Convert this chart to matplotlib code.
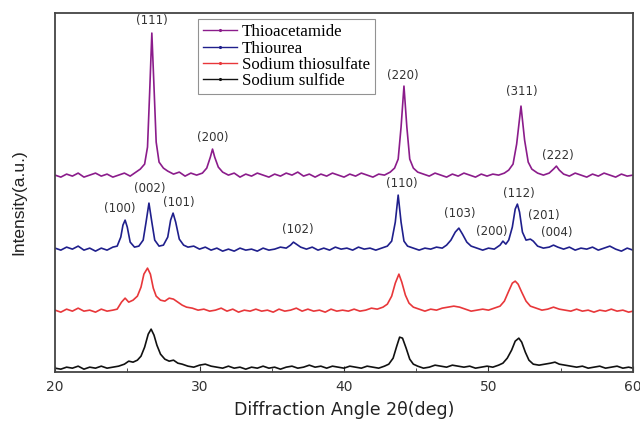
import matplotlib
matplotlib.use("Agg")
import matplotlib.pyplot as plt
from matplotlib.ticker import MultipleLocator
from matplotlib.lines import Line2D

# ---------------- data (y in arbitrary offset units) ----------------
thioacetamide_x = [20.0, 20.4, 20.8, 21.2, 21.6, 22.0, 22.4, 22.8, 23.2, 23.6, 24.0, 24.4, 24.8, 25.2, 25.6, 25.9,
                   26.2, 26.4, 26.55, 26.7, 26.85, 27.0, 27.2, 27.5, 27.8, 28.2, 28.6, 29.0, 29.4, 29.8, 30.2, 30.5,
                   30.75, 30.9, 31.05, 31.3, 31.6, 32.0, 32.4, 32.8, 33.2, 33.6, 34.0, 34.4, 34.8, 35.2, 35.6, 36.0,
                   36.4, 36.8, 37.2, 37.6, 38.0, 38.4, 38.8, 39.2, 39.6, 40.0, 40.4, 40.8, 41.2, 41.6, 42.0, 42.4,
                   42.8, 43.2, 43.5, 43.75, 43.95, 44.15, 44.35, 44.55, 44.8, 45.1, 45.5, 45.9, 46.3, 46.7, 47.1, 47.5,
                   47.9, 48.3, 48.7, 49.1, 49.5, 49.9, 50.3, 50.7, 51.1, 51.4, 51.7, 51.95, 52.25, 52.5, 52.75, 53.0,
                   53.4, 53.8, 54.2, 54.5, 54.7, 54.9, 55.2, 55.6, 56.0, 56.4, 56.8, 57.2, 57.6, 58.0, 58.4, 58.8,
                   59.2, 59.6, 60.0]
thioacetamide_y = [197, 195, 198, 196, 199, 195, 197, 199, 196, 198, 195, 197, 199, 196, 200, 203,
                   208, 225, 280, 339, 285, 230, 210, 204, 201, 198, 200, 196, 199, 197, 199, 204,
                   215, 223, 215, 205, 200, 197, 199, 195, 198, 196, 199, 197, 195, 198, 196, 199,
                   197, 200, 196, 198, 195, 198, 196, 199, 197, 195, 198, 196, 199, 197, 195, 198,
                   197, 200, 204, 213, 245, 286, 245, 213, 204, 200, 198, 196, 199, 197, 195, 198,
                   196, 199, 197, 195, 198, 196, 198, 197, 199, 202, 208, 228, 266, 232, 210, 203,
                   199, 197, 199, 203, 206, 202, 198, 196, 199, 197, 195, 198, 196, 199, 197, 195,
                   198, 196, 197]

thiourea_x = [20.0, 20.4, 20.8, 21.2, 21.6, 22.0, 22.4, 22.8, 23.2, 23.6, 24.0, 24.3, 24.55, 24.7, 24.85, 25.0,
              25.2, 25.5, 25.8, 26.1, 26.3, 26.5, 26.7, 26.9, 27.2, 27.5, 27.8, 28.0, 28.17, 28.35, 28.6, 28.9,
              29.2, 29.6, 30.0, 30.4, 30.8, 31.2, 31.6, 32.0, 32.4, 32.8, 33.2, 33.6, 34.0, 34.4, 34.8, 35.2,
              35.6, 36.0, 36.3, 36.5, 36.7, 37.0, 37.4, 37.8, 38.2, 38.6, 39.0, 39.4, 39.8, 40.2, 40.6, 41.0,
              41.4, 41.8, 42.2, 42.6, 43.0, 43.3, 43.55, 43.75, 43.95, 44.15, 44.4, 44.8, 45.2, 45.6, 46.0, 46.4,
              46.8, 47.1, 47.4, 47.7, 47.95, 48.2, 48.5, 48.8, 49.2, 49.6, 50.0, 50.4, 50.8, 51.0, 51.2, 51.4,
              51.65, 51.85, 52.0, 52.15, 52.35, 52.6, 52.9, 53.1, 53.4, 53.8, 54.2, 54.5, 54.8, 55.2, 55.6, 56.0,
              56.4, 56.8, 57.2, 57.6, 58.0, 58.4, 58.8, 59.2, 59.6, 60.0]
thiourea_y = [124, 122, 125, 123, 126, 122, 124, 121, 124, 122, 125, 126, 135, 147, 152, 145,
              130, 125, 126, 132, 150, 169, 150, 132, 126, 127, 135, 152, 159, 150, 133, 127,
              125, 126, 123, 125, 122, 124, 121, 123, 121, 124, 122, 123, 121, 124, 122, 123,
              125, 124, 127, 130, 128, 125, 123, 125, 122, 124, 122, 125, 123, 124, 122, 125,
              123, 124, 122, 124, 126, 131, 150, 177, 150, 131, 126, 124, 122, 124, 123, 125,
              124, 127, 132, 140, 144, 138, 130, 126, 124, 122, 124, 123, 127, 131, 128, 132,
              145, 163, 168, 160, 140, 132, 133, 131, 126, 124, 125, 127, 125, 123, 125, 122,
              124, 123, 125, 122, 124, 126, 123, 121, 124, 122]

thiosulfate_x = [20.0, 20.4, 20.8, 21.2, 21.6, 22.0, 22.4, 22.8, 23.2, 23.6, 24.0, 24.3, 24.6, 24.85, 25.1, 25.4,
                 25.7, 25.95, 26.15, 26.4, 26.6, 26.8, 27.0, 27.3, 27.6, 27.9, 28.2, 28.5, 28.8, 29.1, 29.5, 29.9,
                 30.3, 30.7, 31.1, 31.5, 31.9, 32.3, 32.7, 33.1, 33.5, 33.9, 34.3, 34.7, 35.1, 35.5, 35.9, 36.3,
                 36.7, 37.1, 37.5, 37.9, 38.3, 38.7, 39.1, 39.5, 39.9, 40.3, 40.7, 41.1, 41.5, 41.9, 42.3, 42.7,
                 43.0, 43.3, 43.55, 43.8, 44.0, 44.25, 44.5, 44.8, 45.2, 45.6, 46.0, 46.4, 46.8, 47.2, 47.6, 48.0,
                 48.4, 48.8, 49.2, 49.6, 50.0, 50.4, 50.8, 51.1, 51.4, 51.65, 51.85, 52.05, 52.3, 52.6, 52.9, 53.3,
                 53.7, 54.1, 54.5, 54.9, 55.3, 55.7, 56.1, 56.5, 56.9, 57.3, 57.7, 58.1, 58.5, 58.9, 59.3, 59.7,
                 60.0]
thiosulfate_y = [62, 60, 63, 61, 64, 61, 62, 60, 63, 61, 62, 63, 70, 74, 70, 72,
                 76, 85, 98, 104, 98, 84, 76, 72, 71, 74, 73, 70, 67, 65, 64, 62,
                 63, 61, 62, 64, 61, 63, 60, 62, 61, 63, 61, 62, 60, 63, 61, 62,
                 64, 61, 63, 61, 62, 60, 63, 61, 62, 61, 63, 61, 62, 64, 63, 65,
                 68, 76, 89, 98, 90, 77, 69, 65, 63, 61, 63, 62, 64, 65, 66, 65,
                 63, 61, 62, 63, 62, 64, 66, 71, 81, 89, 91, 88, 80, 71, 66, 64,
                 62, 63, 65, 63, 62, 61, 63, 61, 62, 60, 62, 61, 63, 61, 62, 60,
                 61]

sulfide_x = [20.0, 20.4, 20.8, 21.2, 21.6, 22.0, 22.4, 22.8, 23.2, 23.6, 24.0, 24.4, 24.8, 25.1, 25.4, 25.7,
             25.95, 26.2, 26.45, 26.65, 26.85, 27.05, 27.3, 27.6, 27.9, 28.2, 28.5, 28.8, 29.2, 29.6, 30.0, 30.4,
             30.8, 31.2, 31.6, 32.0, 32.4, 32.8, 33.2, 33.6, 34.0, 34.4, 34.8, 35.2, 35.6, 36.0, 36.4, 36.8,
             37.2, 37.6, 38.0, 38.4, 38.8, 39.2, 39.6, 40.0, 40.4, 40.8, 41.2, 41.6, 42.0, 42.4, 42.8, 43.1,
             43.4, 43.65, 43.85, 44.05, 44.3, 44.55, 44.8, 45.1, 45.5, 45.9, 46.3, 46.7, 47.1, 47.5, 47.9, 48.3,
             48.7, 49.1, 49.5, 49.9, 50.3, 50.7, 51.0, 51.3, 51.6, 51.85, 52.1, 52.3, 52.55, 52.8, 53.1, 53.5,
             53.9, 54.3, 54.6, 54.9, 55.3, 55.7, 56.1, 56.5, 56.9, 57.3, 57.7, 58.1, 58.5, 58.9, 59.3, 59.7,
             60.0]
sulfide_y = [4, 3, 5, 4, 6, 3, 5, 4, 6, 4, 5, 6, 8, 11, 10, 12,
             16, 25, 38, 43, 37, 27, 18, 13, 11, 12, 9, 8, 6, 5, 7, 8,
             6, 5, 4, 6, 4, 5, 3, 5, 4, 6, 4, 5, 3, 5, 6, 4,
             5, 7, 5, 6, 4, 6, 5, 4, 6, 5, 4, 6, 5, 4, 6, 8,
             14, 26, 35, 34, 24, 13, 8, 6, 4, 5, 7, 6, 5, 7, 6, 5,
             6, 4, 5, 6, 5, 7, 9, 14, 22, 31, 34, 30, 20, 12, 8, 7,
             8, 9, 10, 8, 7, 6, 5, 6, 4, 5, 6, 4, 5, 6, 4, 5,
             4]

series_names = ["Thioacetamide", "Thiourea", "Sodium thiosulfate", "Sodium sulfide"]
series_colors = ["#8B1C8B", "#1F1F8C", "#E8373A", "#111111"]

# peak labels: (text, x, y)
label_texts = ["(111)", "(200)", "(220)", "(311)", "(222)",
               "(100)", "(002)", "(101)", "(102)", "(110)", "(103)", "(200)", "(112)", "(201)", "(004)"]
label_x = [26.7, 30.9, 44.1, 52.3, 54.8,
           24.5, 26.55, 28.6, 36.8, 44.0, 48.0, 50.2, 52.1, 53.8, 54.7]
label_y = [352, 235, 297, 281, 217,
           164, 184, 170, 143, 189, 159, 141, 179, 157, 140]

# ---------------- plotting ----------------
fig = plt.figure(figsize=(6.4, 4.21), dpi=100)
ax = fig.add_axes([0.086, 0.116, 0.903, 0.853])

xs = [thioacetamide_x, thiourea_x, thiosulfate_x, sulfide_x]
ys = [thioacetamide_y, thiourea_y, thiosulfate_y, sulfide_y]
for x, y, name, c in zip(xs, ys, series_names, series_colors):
    ax.plot(x, y, color=c, lw=1.2, label=name)

for t, x, y in zip(label_texts, label_x, label_y):
    ax.text(x, y, t, ha='center', va='center', fontsize=8.5, family='DejaVu Sans', color='#333333')

ax.set_xlim(20, 60)
ax.set_ylim(0, 359)
ax.set_yticks([])
ax.xaxis.set_major_locator(MultipleLocator(10))
ax.xaxis.set_minor_locator(MultipleLocator(5))
ax.tick_params(axis='x', which='both', direction='in', labelsize=10, colors='#333333', pad=6)
ax.tick_params(axis='x', which='major', length=4)
ax.tick_params(axis='x', which='minor', length=3)
for s in ax.spines.values():
    s.set_linewidth(1.3)
    s.set_color('#444444')

ax.set_xlabel("Diffraction Angle 2θ(deg)", fontsize=12.5, family='DejaVu Sans', color='#222222', labelpad=5)
ax.set_ylabel("Intensity(a.u.)", fontsize=12.5, family='Liberation Sans', color='#222222')
ax.yaxis.set_label_coords(-0.05, 0.474)

handles = []
for c in series_colors:
    handles.append(Line2D([0], [0], color=c, lw=1.0, marker='.', markersize=2.5))
leg = ax.legend(handles, series_names, loc='upper left', bbox_to_anchor=(0.2474, 0.983),
                prop={'family': 'Liberation Serif', 'size': 12.2}, frameon=True, fancybox=False,
                edgecolor='#777777', handlelength=2.0, handletextpad=0.3, labelspacing=0.02,
                borderpad=0.3, borderaxespad=0)
leg.get_frame().set_linewidth(0.8)

fig.savefig("out.png", dpi=100)
